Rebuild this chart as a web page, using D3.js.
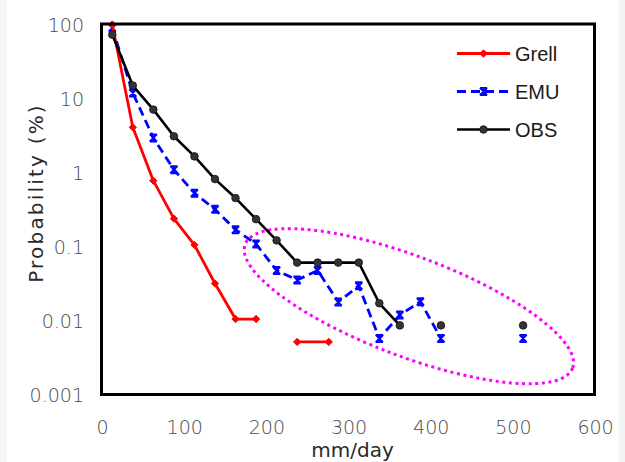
<!DOCTYPE html>
<html>
<head>
<meta charset="utf-8">
<script src="https://cdn.jsdelivr.net/npm/d3@7"></script>
<style>
  html, body { margin: 0; padding: 0; background: #fff; }
  svg { display: block; }
</style>
</head>
<body>
<svg id="chart" width="625" height="462"></svg>
<script>
// Bin centres (mm/day) for the daily precipitation frequency distribution
const bins = [12.5, 37.5, 62.5, 87.5, 112.5, 137.5, 162.5, 187.5, 212.5, 237.5,
              262.5, 287.5, 312.5, 337.5, 362.5, 387.5, 412.5, 437.5, 462.5, 487.5, 512.5];

// Observed probability (%) per bin; null = no events in that bin
const obsValues = [73, 15, 7.1, 3.1, 1.66, 0.82, 0.455, 0.236, 0.122, 0.0612,
                   0.0612, 0.0612, 0.0612, 0.0173, 0.0087, null, 0.0087, null, null, null, 0.0087];

// EMU scheme probability (%) per bin
const emuValues = [90, 11.9, 2.95, 1.1, 0.53, 0.32, 0.17, 0.109, 0.048, 0.0356,
                   0.048, 0.018, 0.0297, 0.0058, 0.012, 0.0182, 0.0058, null, null, null, 0.0058];

// Grell scheme: its own x positions (mm/day) and probability (%)
const grellX = [12.5, 37.5, 62.5, 87.5, 112.5, 137.5, 162.5, 187.5, 212.5, 237.5, 276];
const grellValues = [100, 4.1, 0.78, 0.24, 0.106, 0.032, 0.0106, 0.0106, null, 0.0052, 0.0052];

const xTicks = [0, 100, 200, 300, 400, 500, 600];
const yTicks = [0.001, 0.01, 0.1, 1, 10, 100];
const yTickLabels = ["0.001", "0.01", "0.1", "1", "10", "100"];
const seriesNames = ["Grell", "EMU", "OBS"];

const svg = d3.select("#chart");
const W = 625, H = 462;
const plot = { left: 102, right: 595, top: 24.5, bottom: 395 };

// faint edge strips around the figure
svg.append("rect").attr("x", 0).attr("y", 0).attr("width", W).attr("height", H).attr("fill", "#fff");
svg.append("rect").attr("x", 0).attr("y", 0).attr("width", 7).attr("height", H).attr("fill", "#f6f6f6");
svg.append("rect").attr("x", 619).attr("y", 0).attr("width", 6).attr("height", H).attr("fill", "#f3f3f3");

const x = d3.scaleLinear().domain([0, 600]).range([plot.left, plot.right]);
const y = d3.scaleLog().domain([0.001, 100]).range([plot.bottom, plot.top]);

const tickFont = "'DejaVu Sans', 'Liberation Sans', Arial, sans-serif";

// x axis labels
const gx = svg.append("g")
  .attr("transform", `translate(0,${plot.bottom + 20})`)
  .call(d3.axisBottom(x).tickValues(xTicks).tickSize(0).tickFormat(d3.format("d")));
gx.select(".domain").remove();
gx.selectAll("text")
  .attr("font-family", tickFont).attr("font-size", 19).attr("font-weight", 300)
  .attr("fill", "#4a4a4a").attr("dy", "0.85em");

// y axis labels
const gy = svg.append("g")
  .attr("transform", `translate(${plot.left - 18},0)`)
  .call(d3.axisLeft(y).tickValues(yTicks).tickSize(0)
    .tickFormat((d, i) => yTickLabels[i]));
gy.select(".domain").remove();
gy.selectAll("text")
  .attr("font-family", tickFont).attr("font-size", 19).attr("font-weight", 300)
  .attr("fill", "#4a4a4a").attr("x", 0).attr("dy", "0.36em");

// axis titles
svg.append("text")
  .attr("x", (plot.left + plot.right) / 2 + 4).attr("y", 457)
  .attr("text-anchor", "middle")
  .attr("font-family", tickFont).attr("font-size", 20)
  .attr("fill", "#2a2a2a")
  .text("mm/day");

svg.append("text")
  .attr("transform", "translate(43,193) rotate(-90)")
  .attr("text-anchor", "middle")
  .attr("font-family", tickFont).attr("font-size", 20)
  .attr("letter-spacing", 2.2)
  .attr("fill", "#2a2a2a")
  .text("Probability (%)");

// highlight ellipse around the heavy-rain tail
const ell = { cx: 373.5, cy: 0.0158, rx: 175, ry: 50, angle: 20.7 };
svg.append("ellipse")
  .attr("transform", `translate(${x(ell.cx)},${y(ell.cy)}) rotate(${ell.angle})`)
  .attr("rx", ell.rx).attr("ry", ell.ry)
  .attr("fill", "none").attr("stroke", "#ff00ff")
  .attr("stroke-width", 3).attr("stroke-dasharray", "3,3.6");

// series
const line = d3.line()
  .defined(d => d.v != null)
  .x(d => x(d.x)).y(d => y(d.v));

const grellData = grellX.map((g, i) => ({ x: g, v: grellValues[i] }));
const emuData = bins.map((b, i) => ({ x: b, v: emuValues[i] }));
const obsData = bins.map((b, i) => ({ x: b, v: obsValues[i] }));

const styles = {
  Grell: { color: "#ff0000", dash: null, width: 2.8 },
  EMU:   { color: "#0000ff", dash: "9,5", width: 2.8 },
  OBS:   { color: "#000000", dash: null, width: 2.6 }
};

function drawMarker(g, name, cx, cy) {
  if (name === "Grell") {
    g.append("path")
      .attr("d", d3.symbol(d3.symbolDiamond2, 34)())
      .attr("transform", `translate(${cx},${cy}) scale(1,1)`)
      .attr("fill", "#ff0000").attr("stroke", "#ff0000").attr("stroke-width", 1);
  } else if (name === "EMU") {
    const s = 3.6;
    g.append("path")
      .attr("d", `M${cx - s},${cy - s}L${cx + s},${cy + s}M${cx - s},${cy + s}L${cx + s},${cy - s}M${cx},${cy - s}L${cx},${cy + s}M${cx - s},${cy - s}L${cx + s},${cy - s}M${cx - s},${cy + s}L${cx + s},${cy + s}`)
      .attr("stroke", "#0000ff").attr("stroke-width", 1.8).attr("fill", "none");
  } else {
    g.append("circle").attr("cx", cx).attr("cy", cy).attr("r", 3.8)
      .attr("fill", "#333").attr("stroke", "#111").attr("stroke-width", 0.8);
  }
}

const series = [
  { name: "EMU", data: emuData },
  { name: "Grell", data: grellData },
  { name: "OBS", data: obsData }
];

series.forEach(s => {
  const st = styles[s.name];
  const g = svg.append("g");
  g.append("path")
    .datum(s.data)
    .attr("d", line)
    .attr("fill", "none")
    .attr("stroke", st.color)
    .attr("stroke-width", st.width)
    .attr("stroke-dasharray", st.dash)
    .attr("stroke-linejoin", "round");
  s.data.filter(d => d.v != null).forEach(d => drawMarker(g, s.name, x(d.x), y(d.v)));
});

// plot frame
svg.append("rect")
  .attr("x", plot.left - 0.5).attr("y", plot.top - 0.5)
  .attr("width", plot.right - plot.left).attr("height", plot.bottom - plot.top)
  .attr("fill", "none").attr("stroke", "#000").attr("stroke-width", 3);

// legend
const legend = svg.append("g");
seriesNames.forEach((name, i) => {
  const st = styles[name];
  const ly = 53.5 + i * 38;
  legend.append("line")
    .attr("x1", 457).attr("x2", 510).attr("y1", ly).attr("y2", ly)
    .attr("stroke", st.color).attr("stroke-width", st.width)
    .attr("stroke-dasharray", st.dash);
  drawMarker(legend, name, 483.5, ly);
  legend.append("text")
    .attr("x", 515).attr("y", ly + 7.5)
    .attr("font-family", "'Liberation Sans', Arial, sans-serif")
    .attr("font-size", 20).attr("fill", "#1a1a1a")
    .text(name);
});
</script>
</body>
</html>
